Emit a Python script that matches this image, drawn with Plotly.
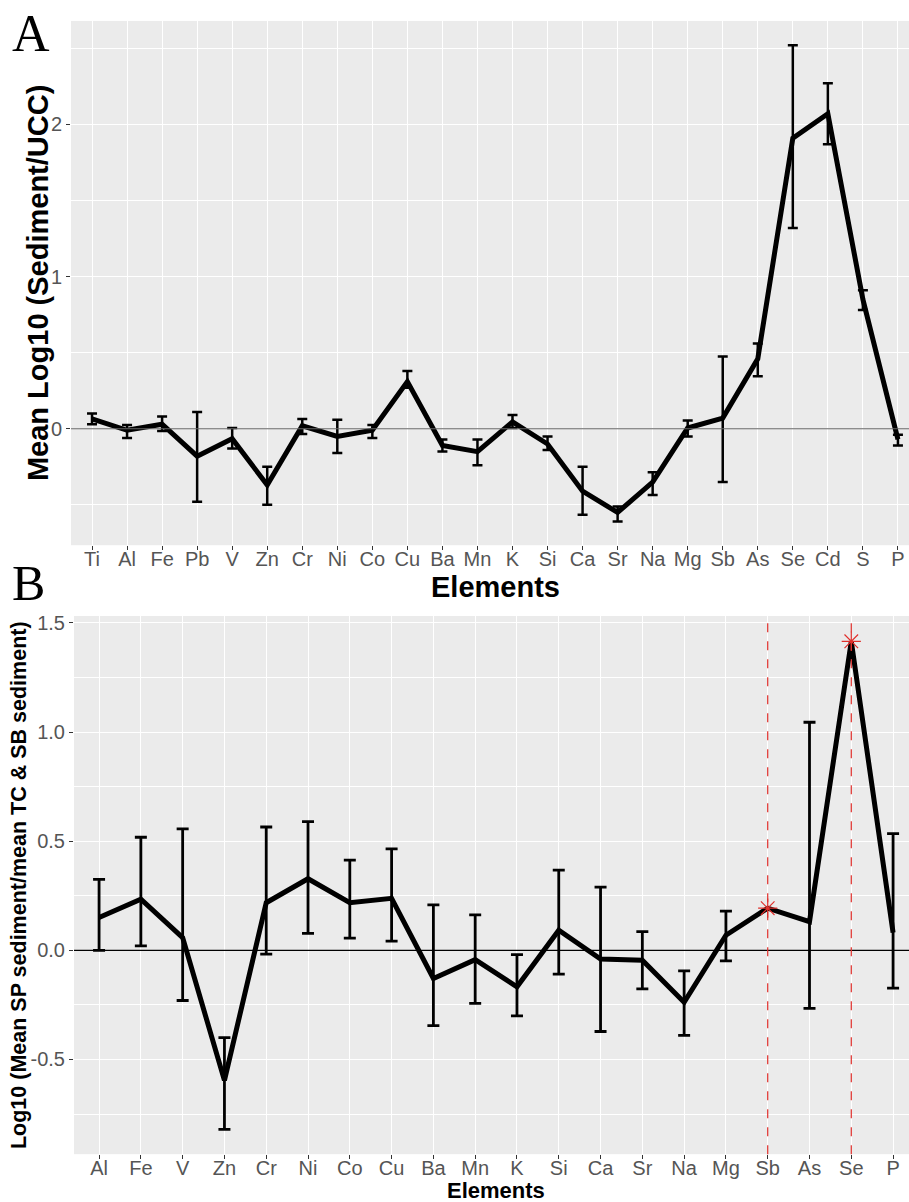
import plotly.graph_objects as go

# ---------------- Data: panel A ----------------
elems_a = ["Ti", "Al", "Fe", "Pb", "V", "Zn", "Cr", "Ni", "Co", "Cu", "Ba", "Mn",
           "K", "Si", "Ca", "Sr", "Na", "Mg", "Sb", "As", "Se", "Cd", "S", "P"]
mean_a = [0.065, -0.01, 0.03, -0.18, -0.065, -0.37, 0.02, -0.05, -0.01, 0.31, -0.11, -0.15,
          0.045, -0.10, -0.41, -0.55, -0.35, 0.005, 0.07, 0.46, 1.91, 2.07, 0.85, -0.07]
upper_a = [0.10, 0.025, 0.08, 0.11, 0.005, -0.25, 0.065, 0.06, 0.025, 0.38, -0.07, -0.07,
           0.09, -0.05, -0.25, -0.51, -0.285, 0.055, 0.475, 0.56, 2.52, 2.27, 0.91, -0.04]
lower_a = [0.03, -0.06, -0.015, -0.48, -0.13, -0.50, -0.035, -0.16, -0.06, 0.27, -0.15, -0.24,
           0.005, -0.14, -0.565, -0.61, -0.435, -0.05, -0.35, 0.345, 1.32, 1.87, 0.78, -0.11]

# ---------------- Data: panel B ----------------
elems_b = ["Al", "Fe", "V", "Zn", "Cr", "Ni", "Co", "Cu", "Ba", "Mn", "K", "Si",
           "Ca", "Sr", "Na", "Mg", "Sb", "As", "Se", "P"]
mean_b = [0.15, 0.234, 0.058, -0.596, 0.218, 0.328, 0.218, 0.238, -0.129, -0.043, -0.167, 0.092,
          -0.04, -0.045, -0.238, 0.069, 0.193, 0.131, 1.416, 0.081]
upper_b = [0.325, 0.518, 0.556, -0.40, 0.565, 0.59, 0.413, 0.465, 0.208, 0.162, -0.02, 0.367,
           0.29, 0.086, -0.094, 0.18, None, 1.045, None, 0.535]
lower_b = [0.0, 0.02, -0.23, -0.82, -0.017, 0.078, 0.056, 0.042, -0.345, -0.243, -0.30, -0.109,
           -0.372, -0.177, -0.39, -0.048, None, -0.266, None, -0.173]
highlight_b = ["Sb", "Se"]

ticks_a = [0, 1, 2]
ticks_b = [-0.5, 0.0, 0.5, 1.0, 1.5]
ticktext_b = ["-0.5", "0.0", "0.5", "1.0", "1.5"]

# ---------------- Figure ----------------
W, H = 909, 1202
FONT = "Liberation Sans, Arial, Helvetica, sans-serif"
SERIF = "Liberation Serif, Times New Roman, serif"
TICKCOL = "#555555"
RED = "#E0302C"


def px_x(p):
    return p / W


def px_y(p):
    return 1 - p / H


fig = go.Figure()

# Panel A
fig.add_trace(go.Scatter(
    x=elems_a, y=mean_a, mode="lines",
    line=dict(color="black", width=5),
    error_y=dict(type="data", symmetric=False,
                 array=[u - m for u, m in zip(upper_a, mean_a)],
                 arrayminus=[m - l for m, l in zip(mean_a, lower_a)],
                 color="black", thickness=2.5, width=5),
    xaxis="x", yaxis="y", showlegend=False, hoverinfo="skip"))

# Panel B
fig.add_trace(go.Scatter(
    x=elems_b, y=mean_b, mode="lines",
    line=dict(color="black", width=5),
    xaxis="x2", yaxis="y2", showlegend=False, hoverinfo="skip"))

eb_x = [e for e, u in zip(elems_b, upper_b) if u is not None]
eb_m = [m for m, u in zip(mean_b, upper_b) if u is not None]
eb_u = [u for u in upper_b if u is not None]
eb_l = [l for l in lower_b if l is not None]
fig.add_trace(go.Scatter(
    x=eb_x, y=eb_m, mode="markers",
    marker=dict(size=1, color="rgba(0,0,0,0)"),
    error_y=dict(type="data", symmetric=False,
                 array=[u - m for u, m in zip(eb_u, eb_m)],
                 arrayminus=[m - l for m, l in zip(eb_m, eb_l)],
                 color="black", thickness=2.8, width=6),
    xaxis="x2", yaxis="y2", showlegend=False, hoverinfo="skip"))

hl_y = [mean_b[elems_b.index(e)] for e in highlight_b]
fig.add_trace(go.Scatter(
    x=highlight_b, y=hl_y, mode="markers",
    marker=dict(symbol="asterisk-open", size=16, color=RED,
                line=dict(color=RED, width=1.2)),
    xaxis="x2", yaxis="y2", showlegend=False, hoverinfo="skip"))

# Shapes: zero lines and red dashed lines
shapes = [
    dict(type="line", xref="x domain", yref="y", x0=0, x1=1, y0=0, y1=0,
         line=dict(color="#666666", width=1.2), layer="above"),
    dict(type="line", xref="x2 domain", yref="y2", x0=0, x1=1, y0=0, y1=0,
         line=dict(color="black", width=1.3), layer="above"),
]
for e in highlight_b:
    i = elems_b.index(e)
    shapes.append(dict(type="line", xref="x2", yref="y2 domain", x0=i, x1=i, y0=0, y1=1,
                       line=dict(color=RED, width=1.2, dash="dash"), layer="above"))

# Panel geometry (pixels)
a_left, a_top, a_bot = 71, 17, 543
b_left, b_top, b_bot = 74, 614, 1154

axis_common = dict(showline=False, zeroline=False, ticks="outside", ticklen=4,
                   tickcolor="#333333", tickwidth=1, showgrid=True,
                   gridcolor="white", tickfont=dict(family=FONT, size=20, color=TICKCOL))

fig.update_layout(
    width=W, height=H,
    margin=dict(l=0, r=0, t=0, b=0),
    paper_bgcolor="white", plot_bgcolor="#EBEBEB",
    shapes=shapes,
    xaxis=dict(domain=[px_x(a_left), 1], anchor="y", type="category",
               categoryorder="array", categoryarray=elems_a,
               range=[-0.6, -0.6 + (W - a_left) / 35.04],
               gridwidth=1.3, ticklabelstandoff=-8, **axis_common),
    yaxis=dict(domain=[px_y(a_bot), px_y(a_top)], anchor="x",
               range=[-0.765, 2.68], tickmode="array", tickvals=ticks_a,
               ticktext=[str(t) for t in ticks_a],
               gridwidth=1.4,
               minor=dict(showgrid=True, gridcolor="white", gridwidth=0.7,
                          tickmode="linear", tick0=0, dtick=0.5),
               **axis_common),
    xaxis2=dict(domain=[px_x(b_left), 1], anchor="y2", type="category",
                categoryorder="array", categoryarray=elems_b,
                range=[-0.6, -0.6 + (W - b_left) / 41.79],
                gridwidth=1.3, ticklabelstandoff=-8, **axis_common),
    yaxis2=dict(domain=[px_y(b_bot), px_y(b_top)], anchor="x2",
                range=[-0.934, 1.532], tickmode="array", tickvals=ticks_b,
                ticktext=ticktext_b,
                gridwidth=1.4,
                minor=dict(showgrid=True, gridcolor="white", gridwidth=0.7,
                           tickmode="linear", tick0=0, dtick=0.25),
                **axis_common),
)

annotations = [
    dict(text="A", x=px_x(10), y=px_y(30), xref="paper", yref="paper",
         xanchor="left", yanchor="middle", showarrow=False,
         font=dict(family=SERIF, size=52, color="black")),
    dict(text="B", x=px_x(10), y=px_y(581), xref="paper", yref="paper",
         xanchor="left", yanchor="middle", showarrow=False,
         font=dict(family=SERIF, size=50, color="black")),
    dict(text="<b>Mean Log10 (Sediment/UCC)</b>", x=px_x(38), y=px_y((a_top + a_bot) / 2),
         xref="paper", yref="paper", xanchor="center", yanchor="middle",
         textangle=-90, showarrow=False, font=dict(family=FONT, size=29, color="black")),
    dict(text="<b>Elements</b>", x=px_x(495), y=px_y(585), xref="paper", yref="paper",
         xanchor="center", yanchor="middle", showarrow=False,
         font=dict(family=FONT, size=29, color="black")),
    dict(text="<b>Log10 (Mean SP sediment/mean TC &amp; SB sediment)</b>", x=px_x(19),
         y=px_y((b_top + b_bot) / 2), xref="paper", yref="paper", xanchor="center",
         yanchor="middle", textangle=-90, showarrow=False,
         font=dict(family=FONT, size=21.5, color="black")),
    dict(text="<b>Elements</b>", x=px_x(496), y=px_y(1190.5), xref="paper", yref="paper",
         xanchor="center", yanchor="middle", showarrow=False,
         font=dict(family=FONT, size=22, color="black")),
]
fig.update_layout(annotations=annotations)

fig.write_html("out.html")
